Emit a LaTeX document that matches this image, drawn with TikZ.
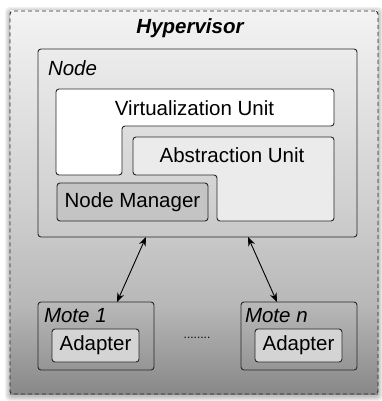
\documentclass[tikz,border=0pt]{standalone}
\usepackage{fontspec}
\setmainfont{Liberation Sans}
\usetikzlibrary{arrows.meta,calc}
\definecolor{ga}{RGB}{136,136,136}
\definecolor{gb}{RGB}{184,184,184}
\definecolor{gc}{RGB}{208,208,208}
\definecolor{gd}{RGB}{243,243,243}
\definecolor{linec}{RGB}{40,40,40}
\definecolor{absfill}{RGB}{235,235,235}
\definecolor{nmfill}{RGB}{196,196,196}
\definecolor{adfill}{RGB}{212,212,212}
\pgfdeclareverticalshading{hypshade}{100bp}{color(0bp)=(ga); color(25bp)=(ga); color(36.7bp)=(gb); color(49.8bp)=(gc); color(75bp)=(gd); color(100bp)=(gd)}
\tikzset{
  lbl/.style={font=\fontsize{20.5}{24}\selectfont, inner sep=0pt, outer sep=0pt},
  box/.style={draw=linec, line width=0.9pt, rounded corners=3pt, inner sep=0pt, outer sep=0pt, anchor=north west},
  conn/.style={draw=black, line width=0.9pt, {Stealth[length=9pt,width=7pt]}-{Stealth[length=9pt,width=7pt]}}
}
\begin{document}
\begin{tikzpicture}[x=1pt,y=-1pt]
\useasboundingbox (0,0) rectangle (381,401);
\fill[white] (0,0) rectangle (381,401);
% shadow
\foreach \i in {1,...,5}{
  \fill[black,opacity=0.05,rounded corners=4pt] (10-\i,12-\i) rectangle (378+\i,396+\i);
}
% hypervisor
\shade[shading=hypshade] (10,11) rectangle (378,394);
\node[draw=linec, line width=0.9pt, dash pattern=on 4pt off 3pt, rounded corners=3pt, minimum width=368pt, minimum height=383pt, anchor=north west, inner sep=0pt, outer sep=0pt] (hyp) at (10,11) {};
\node[lbl, font=\fontsize{20.5}{24}\selectfont\bfseries\itshape] (hyplbl) at (190,28) {Hypervisor};
% node box
\node[box, minimum width=319pt, minimum height=188pt] (node) at (38,49) {};
\node[lbl, font=\fontsize{20.5}{24}\selectfont\itshape, anchor=west] (nodelbl) at (48,68) {Node};
% virtualization unit
\draw[fill=white, draw=linec, line width=0.9pt, rounded corners=3pt] (56,89) -- (334,89) -- (334,126) -- (122,126) -- (122,175) -- (56,175) -- cycle;
\node[lbl] (virt) at (194.5,108) {Virtualization Unit};
% abstraction unit
\draw[fill=absfill, draw=linec, line width=0.9pt, rounded corners=3pt] (133,137) -- (334,137) -- (334,221) -- (217,221) -- (217,175) -- (133,175) -- cycle;
\node[lbl] (abs) at (232,155) {Abstraction Unit};
% node manager
\node[box, fill=nmfill, minimum width=151pt, minimum height=38pt] (nm) at (57,183) {};
\node[lbl] (nmlbl) at (nm.center) {Node Manager};
% motes
\node[box, minimum width=116pt, minimum height=68pt] (m1) at (38,302) {};
\node[lbl, font=\fontsize{20.5}{24}\selectfont\itshape, anchor=west] (m1lbl) at (44,316) {Mote 1};
\node[box, fill=adfill, minimum width=87pt, minimum height=33pt] (a1) at (52,329) {};
\node[lbl] (a1lbl) at (a1.center) {Adapter};
\node[box, minimum width=116pt, minimum height=68pt] (mn) at (241,302) {};
\node[lbl, font=\fontsize{20.5}{24}\selectfont\itshape, anchor=west] (mnlbl) at (245,316) {Mote n};
\node[box, fill=adfill, minimum width=87pt, minimum height=33pt] (an) at (255,329) {};
\node[lbl] (anlbl) at (an.center) {Adapter};
\node[lbl, font=\fontsize{12}{14}\selectfont] (dots) at (197,338) {........};
% connectors
\draw[conn] ([xshift=108pt]node.south west) -- ([xshift=21pt]m1.north);
\draw[conn] ([xshift=210pt]node.south west) -- ([xshift=-22pt]mn.north);
\end{tikzpicture}
\end{document}
